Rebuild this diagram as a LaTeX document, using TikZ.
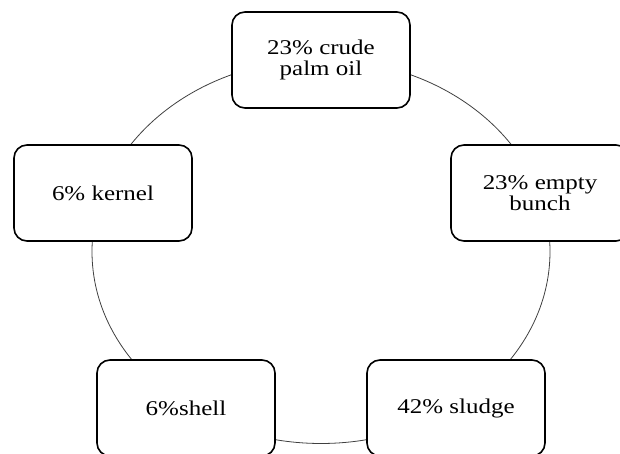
\documentclass[tikz,border=0pt]{standalone}
\usepackage{fontspec}
\setmainfont{Liberation Serif}[FakeStretch=1.19]
\begin{document}
\begin{tikzpicture}[x=1pt, y=1pt,
    box/.style={rectangle, draw, line width=1.6pt, rounded corners=13pt, fill=white, minimum width=178pt, minimum height=96pt, inner sep=0pt, align=center, font=\fontsize{21}{21}\selectfont},
    ring/.style={line width=0.8pt, black!75},
]
\useasboundingbox (0,0) rectangle (620,454);

% Ring behind the boxes
\draw[ring] (321,202.5) ellipse [x radius=229, y radius=192];

% Products
\node[box] (oil) at (321, 394) {23\% crude\\palm oil};
\node[box] (bunch) at (540, 261) {23\% empty\\bunch};
\node[box] (sludge) at (456, 46) {42\% sludge};
\node[box] (shell) at (186, 46) {6\%shell};
\node[box] (kernel) at (103, 261) {6\% kernel};
\end{tikzpicture}
\end{document}
